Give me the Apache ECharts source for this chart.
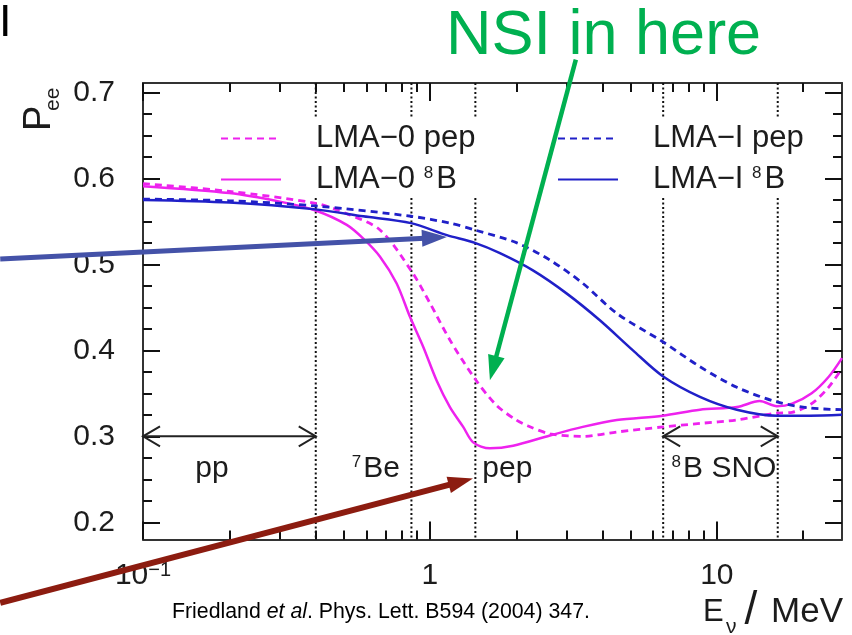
<!DOCTYPE html>
<html>
<head>
<meta charset="utf-8">
<script src="https://cdn.jsdelivr.net/npm/echarts@6/dist/echarts.min.js"></script>
<style>
  html, body { margin: 0; padding: 0; background: #fff; }
  #main { width: 852px; height: 635px; }
</style>
</head>
<body>
<div id="main"></div>
<script>
// Electron-neutrino survival probability P_ee against neutrino energy (MeV)
const FONT = '"Liberation Sans", Arial, sans-serif';
const TEXT_COLOR = '#1c1c1c';

const X_MIN = 0.1, X_MAX = 27.3;
const Y_MIN = 0.18, Y_MAX = 0.711;

// tick values
const xMajorTicks = [0.1, 1, 10];
const xMinorTicks = [0.2, 0.3, 0.4, 0.5, 0.6, 0.7, 0.8, 0.9, 2, 3, 4, 5, 6, 7, 8, 9, 20];
const yMajorTicks = [0.2, 0.3, 0.4, 0.5, 0.6, 0.7];
const yMinorTicks = [0.225, 0.25, 0.275, 0.325, 0.35, 0.375, 0.425, 0.45, 0.475,
                     0.525, 0.55, 0.575, 0.625, 0.65, 0.675];

// curves: [E (MeV), P_ee]
const lma0Pep = [[0.1, 0.594], [0.2, 0.585], [0.4, 0.571], [0.513, 0.559], [0.67, 0.540],
  [0.859, 0.493], [1.0, 0.455], [1.174, 0.412], [1.435, 0.367], [1.707, 0.336],
  [2.0, 0.319], [2.2, 0.312], [2.62, 0.303], [3.42, 0.300], [4.47, 0.305], [6.5, 0.311],
  [8.73, 0.315], [11.7, 0.319], [16.2, 0.327], [18.3, 0.328], [21.4, 0.338],
  [24.5, 0.357], [27.3, 0.379]];
const lma0B8 = [[0.1, 0.591], [0.2, 0.583], [0.3, 0.573], [0.397, 0.563], [0.513, 0.546],
  [0.586, 0.530], [0.67, 0.509], [0.765, 0.478], [0.852, 0.439], [0.948, 0.404],
  [1.055, 0.365], [1.174, 0.334], [1.306, 0.311], [1.415, 0.293], [1.618, 0.286],
  [1.95, 0.289], [2.62, 0.301], [3.41, 0.311], [4.48, 0.319], [6.48, 0.324],
  [8.73, 0.331], [11.74, 0.334], [14.1, 0.341], [16.2, 0.335], [18.3, 0.338],
  [21.4, 0.350], [24.5, 0.369], [27.3, 0.391]];
const lma1Pep = [[0.1, 0.576], [0.2, 0.574], [0.4, 0.568], [0.859, 0.556], [1.174, 0.548],
  [1.435, 0.540], [2.01, 0.525], [2.62, 0.505], [3.41, 0.478], [4.48, 0.443],
  [6.48, 0.410], [8.73, 0.381], [11.74, 0.357], [16.2, 0.340], [21.1, 0.333], [27.3, 0.331]];
const lma1B8 = [[0.1, 0.575], [0.2, 0.572], [0.4, 0.564], [0.585, 0.556], [0.859, 0.548],
  [1.146, 0.534], [1.435, 0.525], [1.754, 0.513], [2.285, 0.493], [3.0, 0.466],
  [3.91, 0.435], [5.1, 0.400], [6.48, 0.370], [8.73, 0.346], [11.74, 0.331],
  [16.2, 0.324], [21.1, 0.324], [27.3, 0.325]];

// solar line / threshold energies (MeV), drawn as dotted verticals
const markerEnergies = [0.4, 0.862, 1.44, 6.5, 16.3];
// energy windows: [from, to, P level of the double arrow]
const windows = [[0.1, 0.4, 0.3], [6.5, 16.3, 0.3]];
// window labels
const regionX = [0.174, 0.648, 1.862, 10.59];
const regionSup = ['', '7', '', '8'];
const regionText = ['pp', 'Be', 'pep', 'B SNO'];
const REGION_LABEL_Y = 0.262;

// pointer arrows (data units), tails and heads
const pointerFrom = [[0.0318, 0.5062], [0.0318, 0.1064], [3.225, 0.7381]];
const pointerTo = [[1.146, 0.5318], [1.412, 0.2509], [1.618, 0.3652]];
const pointerColor = ['#4452a8', '#8c1c10', '#00b050'];
const pointerWidth = [5, 6, 4.5];

// vertical band kept clear for the key
const KEY_GAP_TOP = 0.6703, KEY_GAP_BOTTOM = 0.5772;

const MAGENTA = '#ee22ee';
const BLUE = '#2020c8';

function xAxisDef(position, ticks, len, showLine, labels) {
  return {
    type: 'log', logBase: 10, min: X_MIN, max: X_MAX, position: position,
    axisLine: { show: showLine, onZero: false, lineStyle: { color: '#333', width: 2 } },
    axisTick: { show: true, inside: true, length: len, customValues: ticks,
      lineStyle: { color: '#111', width: 2 } },
    axisLabel: labels ? {
      show: true, customValues: labels, margin: 36, verticalAlign: 'middle',
      color: TEXT_COLOR, fontFamily: FONT, fontSize: 30, lineHeight: 30,
      formatter: function (v) {
        if (Math.abs(v - 0.1) < 1e-9) return '{m|10}{s|\u22121}';
        return '{m|' + (v >= 1 ? Math.round(v) : v) + '}';
      },
      rich: {
        m: { fontFamily: FONT, fontSize: 30, color: TEXT_COLOR, lineHeight: 30 },
        s: { fontFamily: FONT, fontSize: 20, color: TEXT_COLOR, lineHeight: 14, verticalAlign: 'top' }
      }
    } : { show: false },
    splitLine: { show: false }
  };
}

function yAxisDef(position, ticks, len, showLine, labels) {
  return {
    type: 'value', min: Y_MIN, max: Y_MAX, position: position,
    axisLine: { show: showLine, onZero: false, lineStyle: { color: '#333', width: 2 } },
    axisTick: { show: true, inside: true, length: len, customValues: ticks,
      lineStyle: { color: '#111', width: 2 } },
    axisLabel: labels ? {
      show: true, customValues: labels, margin: 28, color: TEXT_COLOR,
      fontFamily: FONT, fontSize: 30, formatter: function (v) { return v.toFixed(1); }
    } : { show: false },
    splitLine: { show: false }
  };
}

function keyFormatter(name) {
  if (name.indexOf('\u2078') >= 0) {
    return '{t|' + name.replace('\u2078', '}{s|8}{t|') + '}';
  }
  return '{t|' + name + '}';
}

function keyDef(left, names) {
  return {
    data: names, left: left, top: 123, orient: 'vertical', padding: 0,
    itemWidth: 60, itemHeight: 14, itemGap: 10, selectedMode: false,
    formatter: keyFormatter,
    // the key shows only the line sample, no marker
    itemStyle: { opacity: 0 },
    lineStyle: { opacity: 1 },
    textStyle: {
      fontFamily: FONT, fontSize: 31, color: TEXT_COLOR, lineHeight: 30,
      padding: [0, 0, 0, 30],
      rich: {
        t: { fontFamily: FONT, fontSize: 31, color: TEXT_COLOR, lineHeight: 30 },
        s: { fontFamily: FONT, fontSize: 17, color: TEXT_COLOR, lineHeight: 18,
             verticalAlign: 'top', padding: [0, 3, 0, 0] }
      }
    }
  };
}

function curve(name, data, color, dashed) {
  return {
    name: name, type: 'line', data: data, smooth: 0.3, symbol: 'none',
    xAxisIndex: 0, yAxisIndex: 0, z: 3,
    lineStyle: { color: color, width: dashed ? 2.8 : 2.5, type: dashed ? [7, 5] : 'solid' },
    itemStyle: { color: color }
  };
}

const chart = echarts.init(document.getElementById('main'), null, { renderer: 'canvas' });

chart.setOption({
  animation: false,
  backgroundColor: '#ffffff',
  grid: { left: 143, right: 10, top: 83, bottom: 95.5, containLabel: false },
  xAxis: [
    xAxisDef('bottom', xMajorTicks, 18, true, xMajorTicks),
    xAxisDef('bottom', xMinorTicks, 9, false, null),
    xAxisDef('top', xMajorTicks, 18, true, null),
    xAxisDef('top', xMinorTicks, 9, false, null)
  ],
  yAxis: [
    yAxisDef('left', yMajorTicks, 17, true, yMajorTicks),
    yAxisDef('left', yMinorTicks, 9, false, null),
    yAxisDef('right', yMajorTicks, 17, true, null),
    yAxisDef('right', yMinorTicks, 9, false, null)
  ],
  legend: [
    keyDef(220, ['LMA\u22120 pep', 'LMA\u22120 \u2078B']),
    keyDef(557, ['LMA\u2212I pep', 'LMA\u2212I \u2078B'])
  ],
  series: [
    curve('LMA\u22120 pep', lma0Pep, MAGENTA, true),
    curve('LMA\u22120 \u2078B', lma0B8, MAGENTA, false),
    curve('LMA\u2212I pep', lma1Pep, BLUE, true),
    curve('LMA\u2212I \u2078B', lma1B8, BLUE, false),
    {
      // dotted verticals at the marker energies
      type: 'custom', silent: true, z: 1,
      data: markerEnergies.map(function (e) { return [e, Y_MIN]; }),
      encode: { x: 0, y: 1 },
      renderItem: function (params, api) {
        const e = api.value(0);
        const a = api.coord([e, Y_MAX]), b = api.coord([e, KEY_GAP_TOP]);
        const c = api.coord([e, KEY_GAP_BOTTOM]), d = api.coord([e, Y_MIN]);
        const st = { stroke: '#111', lineWidth: 2, lineDash: [2, 2.5] };
        return { type: 'group', children: [
          { type: 'line', shape: { x1: a[0], y1: a[1], x2: b[0], y2: b[1] }, style: st },
          { type: 'line', shape: { x1: c[0], y1: c[1], x2: d[0], y2: d[1] }, style: st }
        ] };
      }
    },
    {
      // double-headed arrows spanning each energy window
      type: 'custom', silent: true, z: 4,
      data: windows,
      encode: { x: [0, 1], y: 2 },
      renderItem: function (params, api) {
        const p1 = api.coord([api.value(0), api.value(2)]);
        const p2 = api.coord([api.value(1), api.value(2)]);
        const st = { stroke: '#222', lineWidth: 2, fill: null };
        const hl = 17, hw = 10;
        return { type: 'group', children: [
          { type: 'line', shape: { x1: p1[0], y1: p1[1], x2: p2[0], y2: p2[1] }, style: st },
          { type: 'polyline', shape: { points: [[p1[0] + hl, p1[1] - hw], [p1[0], p1[1]], [p1[0] + hl, p1[1] + hw]] }, style: st },
          { type: 'polyline', shape: { points: [[p2[0] - hl, p2[1] - hw], [p2[0], p2[1]], [p2[0] - hl, p2[1] + hw]] }, style: st }
        ] };
      }
    },
    {
      // window names
      type: 'custom', silent: true, z: 4,
      data: regionX.map(function (x) { return [x, REGION_LABEL_Y]; }),
      encode: { x: 0, y: 1 },
      renderItem: function (params, api) {
        const i = params.dataIndex;
        const p = api.coord([api.value(0), api.value(1)]);
        const txt = (regionSup[i] ? '{s|' + regionSup[i] + '}' : '') + '{t|' + regionText[i] + '}';
        return {
          type: 'text', x: p[0], y: p[1],
          style: {
            text: txt, textAlign: 'center', textVerticalAlign: 'middle',
            rich: {
              t: { fontFamily: FONT, fontSize: 30, fill: TEXT_COLOR, lineHeight: 30 },
              s: { fontFamily: FONT, fontSize: 17, fill: TEXT_COLOR, lineHeight: 18,
                   verticalAlign: 'top', padding: [0, 2, 0, 0] }
            }
          }
        };
      }
    },
    {
      // pointer arrows
      type: 'custom', silent: true, z: 10, clip: false,
      data: pointerFrom.map(function (p, i) { return [p[0], p[1], pointerTo[i][0], pointerTo[i][1]]; }),
      encode: { x: [0, 2], y: [1, 3] },
      renderItem: function (params, api) {
        const i = params.dataIndex;
        const a = api.coord([api.value(0), api.value(1)]);
        const b = api.coord([api.value(2), api.value(3)]);
        const dx = b[0] - a[0], dy = b[1] - a[1];
        const len = Math.sqrt(dx * dx + dy * dy);
        const ux = dx / len, uy = dy / len;
        const hl = 25, hw = 8.5;
        const bx = b[0] - ux * hl, by = b[1] - uy * hl;
        const col = pointerColor[i];
        return { type: 'group', children: [
          { type: 'line', shape: { x1: a[0], y1: a[1], x2: bx + ux * 3, y2: by + uy * 3 },
            style: { stroke: col, lineWidth: pointerWidth[i] } },
          { type: 'polygon', shape: { points: [[b[0], b[1]],
              [bx - uy * hw, by + ux * hw], [bx + uy * hw, by - ux * hw]] },
            style: { fill: col } }
        ] };
      }
    }
  ],
  graphic: [
    { type: 'text', x: -1, y: 24, style: { text: 'I', fontFamily: FONT, fontSize: 45,
        fill: '#000', textAlign: 'left', textVerticalAlign: 'middle' } },
    { type: 'text', x: 446, y: 37, style: { text: 'NSI in here', fontFamily: FONT, fontSize: 63,
        fill: '#00b050', textAlign: 'left', textVerticalAlign: 'middle' } },
    { type: 'text', x: 40, y: 131, rotation: Math.PI / 2, style: { text: 'P', fontFamily: FONT,
        fontSize: 38, fill: TEXT_COLOR, textAlign: 'left', textVerticalAlign: 'middle' } },
    { type: 'text', x: 53, y: 111, rotation: Math.PI / 2, style: { text: 'ee', fontFamily: FONT,
        fontSize: 21, fill: TEXT_COLOR, textAlign: 'left', textVerticalAlign: 'middle' } },
    { type: 'text', x: 703, y: 612, style: { text: 'E', fontFamily: FONT, fontSize: 31,
        fill: TEXT_COLOR, textAlign: 'left', textVerticalAlign: 'middle' } },
    { type: 'text', x: 726, y: 627, style: { text: '\u03bd', fontFamily: FONT, fontSize: 21,
        fill: TEXT_COLOR, textAlign: 'left', textVerticalAlign: 'middle' } },
    { type: 'text', x: 751, y: 611, style: { text: '/', fontFamily: FONT, fontSize: 46,
        fill: TEXT_COLOR, textAlign: 'center', textVerticalAlign: 'middle' } },
    { type: 'text', x: 843, y: 612, style: { text: 'MeV', fontFamily: FONT, fontSize: 35,
        fill: TEXT_COLOR, textAlign: 'right', textVerticalAlign: 'middle' } },
    { type: 'text', x: 172, y: 612, style: {
        text: '{n|Friedland }{i|et al}{n|. Phys. Lett. B594 (2004) 347.}',
        textAlign: 'left', textVerticalAlign: 'middle',
        rich: {
          n: { fontFamily: FONT, fontSize: 21.3, fill: '#000' },
          i: { fontFamily: FONT, fontSize: 21.3, fontStyle: 'italic', fill: '#000' }
        } } }
  ]
});
</script>
</body>
</html>
